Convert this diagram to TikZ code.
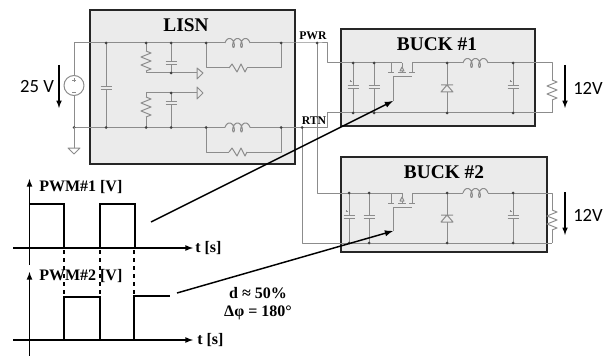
\documentclass[tikz,border=0pt]{standalone}
\usepackage{amsmath,amssymb}
\usepackage{fontspec}
\setmainfont{Liberation Serif}
\newfontfamily\voltfont{Carlito}
\usepackage{tikz}

\definecolor{wiregrey}{HTML}{8C8C8C}
\definecolor{boxgrey}{HTML}{EBEBEB}
\definecolor{edgegrey}{HTML}{262626}

\tikzset{
  wire/.style={wiregrey, line width=0.75pt, line join=round},
  blockbox/.style={draw=edgegrey, fill=boxgrey, line width=1.3pt},
  dotmark/.style={fill=black!75, draw=none},
  sense/.style={->, >=latex, line width=0.9pt, black},
  axisline/.style={->, >=latex, line width=0.95pt, black},
  wave/.style={line width=0.85pt, black},
  title/.style={font=\bfseries\fontsize{14.5}{16}\selectfont, inner sep=0pt},
  pinlabel/.style={font=\bfseries\fontsize{8.8}{10}\selectfont, inner sep=0pt},
  plotlabel/.style={font=\bfseries\fontsize{12}{14}\selectfont, inner sep=0pt},
  voltlabel/.style={font=\voltfont\fontsize{14}{16}\selectfont, inner sep=0pt}
}

% vertical resistor, 20 tall
\newcommand{\vres}[2]{\draw[wire] (#1,#2) -- ++(5,2) -- ++(-10,4) -- ++(10,4) -- ++(-10,4) -- ++(10,4) -- ++(-5,2);}
% horizontal resistor, 18 wide
\newcommand{\hres}[2]{\draw[wire] (#1,#2) -- ++(3,-4) -- ++(5,8) -- ++(4,-8) -- ++(4,8) -- ++(2,-4);}
% coil, 25 wide
\newcommand{\coil}[2]{\draw[wire, domain=0:900, samples=120, smooth] plot ({#1+2.5+\x/45-2.5*cos(\x)}, {#2-4.5*sin(\x)});}
% capacitor plates
\newcommand{\capa}[2]{\fill[boxgrey] (#1-4,#2-1) rectangle (#1+4,#2+1);
  \draw[wire] (#1-5.5,#2-1.5) -- (#1+5.5,#2-1.5) (#1-5.5,#2+1.5) -- (#1+5.5,#2+1.5);}
% polarity mark
\newcommand{\polar}[2]{\draw[wire, line width=0.4pt] (#1-3.5,#2-6) -- (#1-1.5,#2-6) (#1-2.5,#2-7) -- (#1-2.5,#2-5);}

% one buck stage: name, y shift, x of the two input capacitors
\newcommand{\buckstage}[4]{
  \begin{scope}[shift={(0,#2)}]
    \draw[wire] (#3,63) -- (#3,113) (#4,63) -- (#4,113);
    \capa{#3}{87} \capa{#4}{87}
    \polar{#3}{87}
    \draw[wire] (391,63) -- (391,73) (388,73) -- (394,73) (402,63) -- (402,73) (398,73) -- (406,73);
    \draw[wire] (412,63) -- (412,73) (409,73) -- (415,73) (393,77) -- (412,77);
    \draw[wire, fill=boxgrey] (400,71) -- (404,71) -- (402,67) -- cycle;
    \draw[wire] (393,77) -- (393,101);
    \draw[wire] (391,63) -- (402,63);
    \draw[wire] (447,63) -- (447,113) (513,63) -- (513,113);
    \capa{513}{87}
    \polar{513}{87}
    \draw[wire] (412,63) -- (463,63) (488,63) -- (552,63) -- (552,80);
    \coil{463}{63}
    \vres{552}{80}
    \draw[wire] (552,100) -- (552,113);
    \draw[wire, fill=boxgrey] (441,92) -- (453,92) -- (447,85) -- cycle (441,85) -- (453,85);
    \foreach \px in {#3,#4,447,513} {
      \fill[dotmark] (\px,63) circle (1.5);
      \fill[dotmark] (\px,113) circle (1.5);
    }
    \coordinate (#1gate) at (393,101);
    \coordinate (#1in) at (341,63);
  \end{scope}
}

\begin{document}
\begin{tikzpicture}[x=0.75pt, y=-0.75pt]
  \useasboundingbox (0,0) rectangle (609,356);

  % blocks
  \draw[blockbox] (90,10) rectangle (295,164);
  \draw[blockbox] (341,29) rectangle (535,126);
  \draw[blockbox] (341,157) rectangle (547,252);
  \node[title] (lisn) at (186,25) {LISN};
  \node[title] (bucka) at (437,44) {BUCK \#1};
  \node[title] (buckb) at (444,172) {BUCK \#2};

  \coordinate (pwr) at (317,43);
  \coordinate (rtn) at (302,127.5);

  % LISN
  \draw[wire] (74,127.5) -- (74,43) -- (225,43) (250,43) -- (317,43) -- (327,43) -- (327,63) -- (391,63);
  \draw[wire] (74,127.5) -- (225,127.5) (250,127.5) -- (327,127.5) -- (327,113) -- (552,113);
  \draw[wire] (pwr) -- (317,193) -- (391,193);
  \draw[wire] (rtn) -- (302,243) -- (552,243);
  \coil{225}{43}
  \coil{225}{127.5}
  \draw[wire] (206,43) -- (206,68) -- (229,68) (247,68) -- (281,68) -- (281,43);
  \hres{229}{68}
  \draw[wire] (206,127.5) -- (206,152) -- (229,152) (247,152) -- (281,152) -- (281,127.5);
  \hres{229}{152}
  \draw[wire] (106,43) -- (106,127.5);
  \capa{106}{88}
  \draw[wire] (146,43) -- (146,51) (146,71) -- (146,73) -- (197,73);
  \vres{146}{51}
  \draw[wire] (171,43) -- (171,73);
  \capa{171}{63}
  \draw[wire] (197,68) -- (203,73) -- (197,79) -- cycle;
  \draw[wire] (197,93) -- (146,93) -- (146,97) (146,117) -- (146,127.5);
  \vres{146}{97}
  \draw[wire] (171,93) -- (171,127.5);
  \capa{171}{103}
  \draw[wire] (197,87) -- (203,93) -- (197,99) -- cycle;
  \foreach \px/\py in {74/127.5, 106/43, 106/127.5, 146/43, 146/127.5, 171/43, 171/73, 171/93, 171/127.5,
    206/43, 281/43, 206/127.5, 281/127.5, 317/43, 302/127.5} {
    \fill[dotmark] (\px,\py) circle (1.5);
  }

  % source and ground
  \draw[wire, fill=white] (74,85.5) circle (10);
  \draw[wire, line width=0.5pt] (72,80) -- (76,80) (74,78) -- (74,82) (72,92) -- (76,92);
  \draw[wire] (74,127.5) -- (74,148);
  \draw[wire] (68,148) -- (80,148) -- (74,154) -- cycle;

  \node[pinlabel] (pwrlabel) at (313,36) {PWR};
  \node[pinlabel] (rtnlabel) at (314,121) {RTN};

  % converters
  \buckstage{a}{0}{353}{374}
  \buckstage{b}{130}{349}{369}

  % voltages
  \draw[sense] (59,65) -- (59,108);
  \node[voltlabel] (vin) at (37,87) {25 V};
  \draw[sense] (565,65) -- (565,108);
  \node[voltlabel] (vouta) at (588,88) {12V};
  \draw[sense] (565,192) -- (565,235);
  \node[voltlabel] (voutb) at (588,215) {12V};

  % PWM #1
  \draw[axisline] (29.5,265) -- (29.5,179);
  \draw[axisline] (13,248) -- (193,248);
  \draw[wave] (29.5,204) -- (64,204) -- (64,248) -- (100,248) -- (100,204) -- (135,204) -- (135,248) -- (170,248);
  \draw[line width=1.6pt] (135,248) -- (170,248);
  \node[plotlabel, anchor=west] (pwma) at (39,187) {PWM\#1 [V]};
  \node[plotlabel, anchor=west] (ta) at (195,248) {t [s]};

  % PWM #2
  \draw[axisline] (29.5,356) -- (29.5,272);
  \draw[axisline] (13,340) -- (193,340);
  \draw[wave, dashed] (64,250) -- (64,297) (100,250) -- (100,297) (134,250) -- (134,296);
  \draw[wave] (29.5,340) -- (64,340) -- (64,297) -- (100,297) -- (100,340) -- (134,340) -- (134,296) -- (170,296);
  \draw[line width=1.6pt] (29.5,340) -- (64,340) (100,340) -- (135,340);
  \node[plotlabel, anchor=west] (pwmb) at (39,276) {PWM\#2 [V]};
  \node[plotlabel, anchor=west] (tb) at (197,340) {t [s]};
  \node[plotlabel] (duty) at (258,293) {d ≈ 50\%};
  \node[plotlabel] (phase) at (258,313) {Δφ = 180°};

  % gate drive
  \coordinate (drivea) at (151,222);
  \coordinate (driveb) at (177,293);
  \draw[sense, line width=1.1pt] (drivea) -- (agate);
  \draw[sense, line width=1.1pt] (driveb) -- (bgate);
\end{tikzpicture}
\end{document}
